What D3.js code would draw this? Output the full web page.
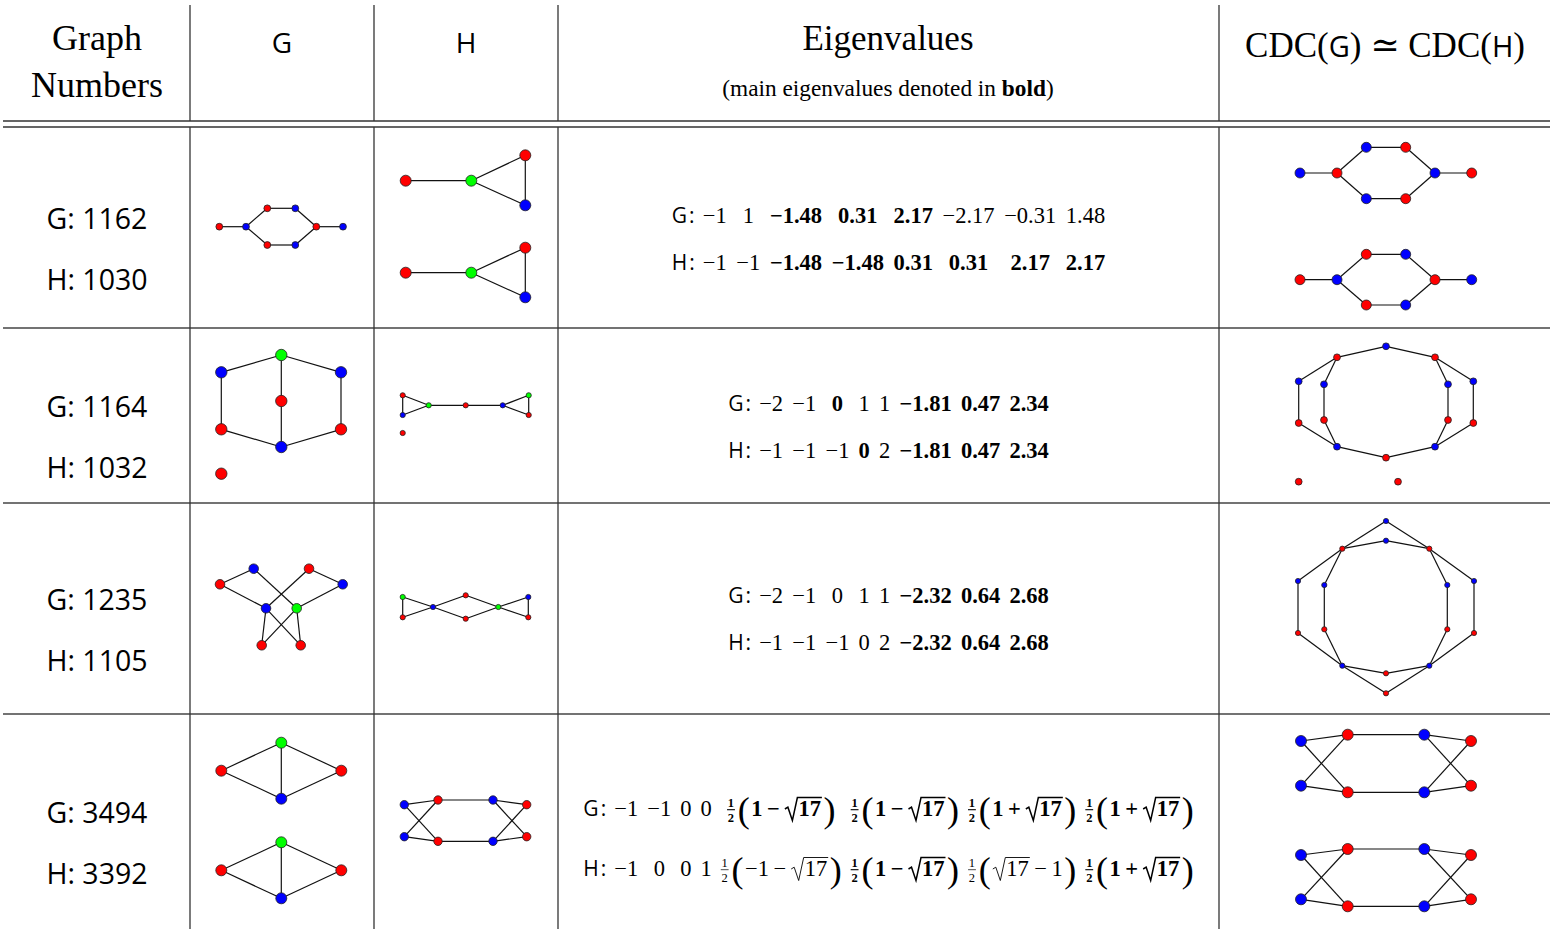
<!DOCTYPE html>
<html>
<head>
<meta charset="utf-8">
<script src="https://cdn.jsdelivr.net/npm/d3@7"></script>
<style>
  body { margin: 0; background: #fff; }
</style>
</head>
<body>
<svg id="chart" width="1550" height="929"></svg>
<script>
// ---- data ----
const graphNumbers = [["G: 1162", "H: 1030"], ["G: 1164", "H: 1032"], ["G: 1235", "H: 1105"], ["G: 3494", "H: 3392"]];

// eigenvalues: [text, bold]
const eigen1162 = [["−1",0],["1",0],["−1.48",1],["0.31",1],["2.17",1],["−2.17",0],["−0.31",0],["1.48",0]];
const eigen1030 = [["−1",0],["−1",0],["−1.48",1],["−1.48",1],["0.31",1],["0.31",1],["2.17",1],["2.17",1]];
const eigen1164 = [["−2",0],["−1",0],["0",1],["1",0],["1",0],["−1.81",1],["0.47",1],["2.34",1]];
const eigen1032 = [["−1",0],["−1",0],["−1",0],["0",1],["2",0],["−1.81",1],["0.47",1],["2.34",1]];
const eigen1235 = [["−2",0],["−1",0],["0",0],["1",0],["1",0],["−2.32",1],["0.64",1],["2.68",1]];
const eigen1105 = [["−1",0],["−1",0],["−1",0],["0",0],["2",0],["−2.32",1],["0.64",1],["2.68",1]];
const eigen3494 = [["−1",0],["−1",0],["0",0],["0",0],["½(1−√17)",1],["½(1−√17)",1],["½(1+√17)",1],["½(1+√17)",1]];
const eigen3392 = [["−1",0],["0",0],["0",0],["1",0],["½(−1−√17)",0],["½(1−√17)",1],["½(√17−1)",0],["½(1+√17)",1]];

// graphs: nodes [x, y, colour] in cell units, edges [i, j]
const g1162Nodes = [[29.3,99.7,"r"],[56,99.7,"b"],[77.3,81.3,"r"],[105.3,81.3,"b"],[126.3,99.7,"r"],[153,99.7,"b"],[77.3,118,"r"],[105.3,118,"b"]];
const g1162Edges = [[0,1],[1,2],[2,3],[3,4],[4,5],[1,6],[6,7],[7,4]];
const h1030Nodes = [[31.7,53.7,"r"],[97.3,53.7,"g"],[151.3,28.3,"r"],[151.3,78.3,"b"],[31.7,145.7,"r"],[97.3,145.7,"g"],[151.3,120.7,"r"],[151.3,170.3,"b"]];
const h1030Edges = [[0,1],[1,2],[1,3],[2,3],[4,5],[5,6],[5,7],[6,7]];
const cdc1Nodes = [[81,46,"b"],[118,46,"r"],[147.3,20.3,"b"],[186.7,20.3,"r"],[216,46,"b"],[252.7,46,"r"],[147.3,71.7,"b"],[186.7,71.7,"r"],
                   [81,152.7,"r"],[118,152.7,"b"],[147.3,127.3,"r"],[186.7,127.3,"b"],[216,152.7,"r"],[252.7,152.7,"b"],[147.3,178,"r"],[186.7,178,"b"]];
const cdc1Edges = [[0,1],[1,2],[2,3],[3,4],[4,5],[1,6],[6,7],[7,4],[8,9],[9,10],[10,11],[11,12],[12,13],[9,14],[14,15],[15,12]];

const g1164Nodes = [[91.3,27,"g"],[31.3,44.3,"b"],[151,44.3,"b"],[91.3,73,"r"],[31.3,101.3,"r"],[151,101.3,"r"],[91.3,119,"b"],[31.3,145.7,"r"]];
const g1164Edges = [[0,1],[0,2],[0,3],[3,6],[1,4],[2,5],[4,6],[5,6]];
const h1032Nodes = [[28.7,67.3,"r"],[28.7,87,"b"],[54.7,77.3,"g"],[91.7,77.3,"r"],[128.7,77.3,"b"],[154.7,67.3,"g"],[154.7,87,"r"],[28.7,105,"r"]];
const h1032Edges = [[0,1],[0,2],[1,2],[2,3],[3,4],[4,5],[4,6],[5,6]];
const cdc2Nodes = [[167,18.3,"b"],[118,29.3,"r"],[216,29.3,"r"],[79.7,53.3,"b"],[105,56.3,"b"],[229,56.3,"b"],[254.3,53.3,"b"],[79.7,95,"r"],
                   [105,92,"r"],[229,92,"r"],[254.3,95,"r"],[118,118.7,"b"],[216,118.7,"b"],[167,129.7,"r"],[79.7,153.7,"r"],[179,153.7,"r"]];
const cdc2Edges = [[0,1],[0,2],[1,3],[1,4],[2,5],[2,6],[3,7],[4,8],[5,9],[6,10],[7,11],[8,11],[9,12],[10,12],[11,13],[12,13]];

const g1235Nodes = [[30,81.3,"r"],[63.7,65.7,"b"],[119,65.7,"r"],[152.7,81.3,"b"],[76,105.3,"b"],[106.7,105.3,"g"],[71.7,142.3,"r"],[110.7,142.3,"r"]];
const g1235Edges = [[0,1],[0,4],[1,5],[2,4],[2,3],[3,5],[4,6],[4,7],[5,6],[5,7]];
const h1105Nodes = [[28.7,94,"g"],[28.7,114.3,"r"],[59,104,"b"],[91.7,92.3,"r"],[91.7,115.7,"r"],[124.3,104,"g"],[154.3,94,"b"],[154.3,114.3,"r"]];
const h1105Edges = [[0,1],[0,2],[1,2],[2,3],[2,4],[3,5],[4,5],[5,6],[5,7],[6,7]];
const cdc3Nodes = [[167,18,"b"],[167,37.7,"b"],[123.3,45.7,"r"],[210.3,45.7,"r"],[79,78,"b"],[105.3,82,"b"],[228.3,82,"b"],[255,78,"b"],
                   [79,130,"r"],[105.3,126.3,"r"],[228.3,126.3,"r"],[255,130,"r"],[123.3,162.7,"b"],[210.3,162.7,"b"],[167,170.3,"r"],[167,190.3,"r"]];
const cdc3Edges = [[0,2],[0,3],[1,2],[1,3],[2,4],[2,5],[3,6],[3,7],[4,8],[5,9],[6,10],[7,11],[8,12],[9,12],[10,13],[11,13],[12,14],[13,14],[12,15],[13,15]];

const g3494Nodes = [[91.3,28.7,"g"],[31.3,56.7,"r"],[151.3,56.7,"r"],[91.3,84.7,"b"],[91.3,128.3,"g"],[31.3,156.3,"r"],[151.3,156.3,"r"],[91.3,184.3,"b"]];
const g3494Edges = [[0,1],[0,2],[0,3],[1,3],[2,3],[4,5],[4,6],[4,7],[5,7],[6,7]];
const h3392Nodes = [[30.3,90.7,"b"],[30.3,122.7,"b"],[64,86,"r"],[64,127.3,"r"],[119,86,"b"],[119,127.3,"b"],[152.7,90.7,"r"],[152.7,122.7,"r"]];
const h3392Edges = [[0,2],[0,3],[1,2],[1,3],[2,4],[3,5],[4,6],[4,7],[5,6],[5,7]];
const cdc4Nodes = [[82,27,"b"],[82,71.7,"b"],[128.7,20.7,"r"],[128.7,78.3,"r"],[205.3,20.7,"b"],[205.3,78.3,"b"],[252,27,"r"],[252,71.7,"r"],
                   [82,141,"b"],[82,185.3,"b"],[128.7,135,"r"],[128.7,192.3,"r"],[205.3,135,"b"],[205.3,192.3,"b"],[252,141,"r"],[252,185.3,"r"]];
const cdc4Edges = [[0,2],[0,3],[1,2],[1,3],[2,4],[3,5],[4,6],[4,7],[5,6],[5,7],[8,10],[8,11],[9,10],[9,11],[10,12],[11,13],[12,14],[12,15],[13,14],[13,15]];

// ---- layout ----
const SERIF = "'Liberation Serif', 'DejaVu Serif', serif";
const SANS = "'Open Sans', 'Noto Sans', sans-serif";
const colX = [3, 190, 374, 558, 1219, 1550];
const rowTop = [127, 328, 503, 714, 929];
const fill = {r: "#ff0000", b: "#0000ff", g: "#00ff00"};

const svg = d3.select("#chart");

// rules
const rules = svg.append("g").attr("stroke", "#333").attr("stroke-width", 1.3);
[121, 127, 328, 503, 714].forEach(yy => {
    rules.append("line").attr("x1", 3).attr("x2", 1550).attr("y1", yy).attr("y2", yy)
        .attr("stroke", yy < 200 ? "#333" : "#444");
});
colX.slice(1, 5).forEach(xx => {
    rules.append("line").attr("x1", xx).attr("x2", xx).attr("y1", 5).attr("y2", 121);
    rules.append("line").attr("x1", xx).attr("x2", xx).attr("y1", 127).attr("y2", 929);
});

// header
const head = svg.append("g").attr("fill", "#000");
head.append("text").attr("x", 97).attr("y", 50).attr("text-anchor", "middle")
    .attr("font-family", SERIF).attr("font-size", 36).text("Graph");
head.append("text").attr("x", 97).attr("y", 97).attr("text-anchor", "middle")
    .attr("font-family", SERIF).attr("font-size", 36).text("Numbers");
head.append("text").attr("x", 282).attr("y", 53).attr("text-anchor", "middle")
    .attr("font-family", SANS).attr("font-size", 28).text("G");
head.append("text").attr("x", 466).attr("y", 53).attr("text-anchor", "middle")
    .attr("font-family", SANS).attr("font-size", 28).text("H");
head.append("text").attr("x", 888).attr("y", 50).attr("text-anchor", "middle")
    .attr("font-family", SERIF).attr("font-size", 35).text("Eigenvalues");
let sub = head.append("text").attr("x", 888).attr("y", 96).attr("text-anchor", "middle")
    .attr("font-family", SERIF).attr("font-size", 23.3);
sub.append("tspan").text("(main eigenvalues denoted in ");
sub.append("tspan").attr("font-weight", "bold").text("bold");
sub.append("tspan").text(")");
let cdc = head.append("text").attr("x", 1385).attr("y", 57).attr("text-anchor", "middle")
    .attr("font-family", SERIF).attr("font-size", 35);
cdc.append("tspan").text("CDC(");
cdc.append("tspan").attr("font-family", SANS).attr("font-size", 29).text("G");
cdc.append("tspan").text(") ≃ CDC(");
cdc.append("tspan").attr("font-family", SANS).attr("font-size", 29).text("H");
cdc.append("tspan").text(")");

// graph numbers
graphNumbers.forEach((pair, i) => {
    const mid = (rowTop[i] + rowTop[i + 1]) / 2;
    svg.append("text").attr("x", 97).attr("y", mid + 1.5).attr("text-anchor", "middle")
        .attr("font-family", SANS).attr("font-size", 28.5).text(pair[0]);
    svg.append("text").attr("x", 97).attr("y", mid + 62.5).attr("text-anchor", "middle")
        .attr("font-family", SANS).attr("font-size", 28.5).text(pair[1]);
});

// graphs
function drawGraph(col, row, nodes, edges, r) {
    const x0 = colX[col], y0 = rowTop[row];
    const x = d3.scaleLinear().domain([0, colX[col + 1] - x0]).range([x0, colX[col + 1]]);
    const y = d3.scaleLinear().domain([0, rowTop[row + 1] - y0]).range([y0, rowTop[row + 1]]);
    const g = svg.append("g");
    g.selectAll("line").data(edges).join("line")
        .attr("x1", d => x(nodes[d[0]][0])).attr("y1", d => y(nodes[d[0]][1]))
        .attr("x2", d => x(nodes[d[1]][0])).attr("y2", d => y(nodes[d[1]][1]))
        .attr("stroke", "#111").attr("stroke-width", 1.2);
    g.selectAll("circle").data(nodes).join("circle")
        .attr("cx", d => x(d[0])).attr("cy", d => y(d[1])).attr("r", r)
        .attr("fill", d => fill[d[2]]).attr("stroke", "#222").attr("stroke-width", 0.8);
}
drawGraph(1, 0, g1162Nodes, g1162Edges, 3.4);
drawGraph(2, 0, h1030Nodes, h1030Edges, 5.5);
drawGraph(4, 0, cdc1Nodes, cdc1Edges, 5);
drawGraph(1, 1, g1164Nodes, g1164Edges, 5.7);
drawGraph(2, 1, h1032Nodes, h1032Edges, 2.6);
drawGraph(4, 1, cdc2Nodes, cdc2Edges, 3.4);
drawGraph(1, 2, g1235Nodes, g1235Edges, 4.8);
drawGraph(2, 2, h1105Nodes, h1105Edges, 2.6);
drawGraph(4, 2, cdc3Nodes, cdc3Edges, 2.6);
drawGraph(1, 3, g3494Nodes, g3494Edges, 5.5);
drawGraph(2, 3, h3392Nodes, h3392Edges, 4.2);
drawGraph(4, 3, cdc4Nodes, cdc4Edges, 5.5);

// eigenvalue arrays
const EF = 22.5;
function textW(sel) { return sel.node().getComputedTextLength(); }

function renderItem(g, str, bold) {
    const fw = bold ? "bold" : "normal";
    if (!str.startsWith("½(")) {
        const t = g.append("text").attr("x", 0).attr("y", 0)
            .attr("font-family", SERIF).attr("font-size", EF).attr("font-weight", fw).text(str);
        return textW(t);
    }
    let x = 0;
    // one half
    const n = g.append("text").attr("x", 0).attr("y", -9).attr("font-family", SERIF)
        .attr("font-size", 12.5).attr("font-weight", fw).text("1");
    const nw = textW(n);
    n.attr("x", 0.8);
    g.append("text").attr("x", 0.8).attr("y", 5.5).attr("font-family", SERIF)
        .attr("font-size", 12.5).attr("font-weight", fw).text("2");
    g.append("line").attr("x1", 0).attr("x2", nw + 1.6).attr("y1", -6.3).attr("y2", -6.3)
        .attr("stroke", "#000").attr("stroke-width", bold ? 1.1 : 0.7);
    x = nw + 4.5;
    const lp = g.append("text").attr("x", x).attr("y", 5.5).attr("font-family", SERIF)
        .attr("font-size", 36).text("(");
    x += textW(lp) + 1.5;
    const toks = str.slice(2, -1).match(/√17|[−+]|[^−+√]+/g);
    toks.forEach((p, i) => {
        if (p === "√17") {
            const t = g.append("text").attr("x", x + 14).attr("y", 0).attr("font-family", SERIF)
                .attr("font-size", EF).attr("font-weight", fw).text("17");
            const w = textW(t);
            g.append("path")
                .attr("d", `M${x + 0.5},${-7} L${x + 3.5},${-8.8} L${x + 8},${4.5} L${x + 13},${-18.5} L${x + 15 + w},${-18.5}`)
                .attr("fill", "none").attr("stroke", "#000")
                .attr("stroke-width", bold ? 1.5 : 0.9);
            x += w + 15;
        } else {
            const pad = (p === "−" || p === "+") && i > 0 ? 4.5 : 0;
            x += pad;
            const t = g.append("text").attr("x", x).attr("y", 0).attr("font-family", SERIF)
                .attr("font-size", EF).attr("font-weight", fw).text(p);
            x += textW(t) + pad;
        }
    });
    x += 1.5;
    const rp = g.append("text").attr("x", x).attr("y", 5.5).attr("font-family", SERIF)
        .attr("font-size", 36).text(")");
    x += textW(rp);
    return x;
}

function drawEigen(rows, labels, ys, gap) {
    const cx = (colX[3] + colX[4]) / 2;
    const block = svg.append("g");
    const cells = rows.map((vals, ri) => {
        const lab = block.append("text").attr("font-family", SANS).attr("font-size", 21);
        lab.append("tspan").text(labels[ri]);
        lab.append("tspan").attr("dx", 2).text(":");
        return {
            lab: lab, labW: lab.node().getBBox().width,
            items: vals.map(v => {
                const g = block.append("g");
                return {g: g, w: renderItem(g, v[0], v[1])};
            })
        };
    });
    const labW = d3.max(cells, c => c.labW);
    const nCols = rows[0].length;
    const colW = d3.range(nCols).map(j => d3.max(cells, c => c.items[j].w));
    const total = labW + 8 + d3.sum(colW) + gap * (nCols - 1);
    const left = cx - total / 2;
    cells.forEach((c, ri) => {
        c.lab.attr("x", left).attr("y", ys[ri]);
        let xx = left + labW + 8;
        c.items.forEach((it, j) => {
            it.g.attr("transform", `translate(${xx + (colW[j] - it.w) / 2},${ys[ri]})`);
            xx += colW[j] + gap;
        });
    });
}
drawEigen([eigen1162, eigen1030], ["G", "H"], [223, 270], 9.6);
drawEigen([eigen1164, eigen1032], ["G", "H"], [411, 458], 9.2);
drawEigen([eigen1235, eigen1105], ["G", "H"], [603, 650], 9.2);
drawEigen([eigen3494, eigen3392], ["G", "H"], [816, 876], 9);
</script>
</body>
</html>
